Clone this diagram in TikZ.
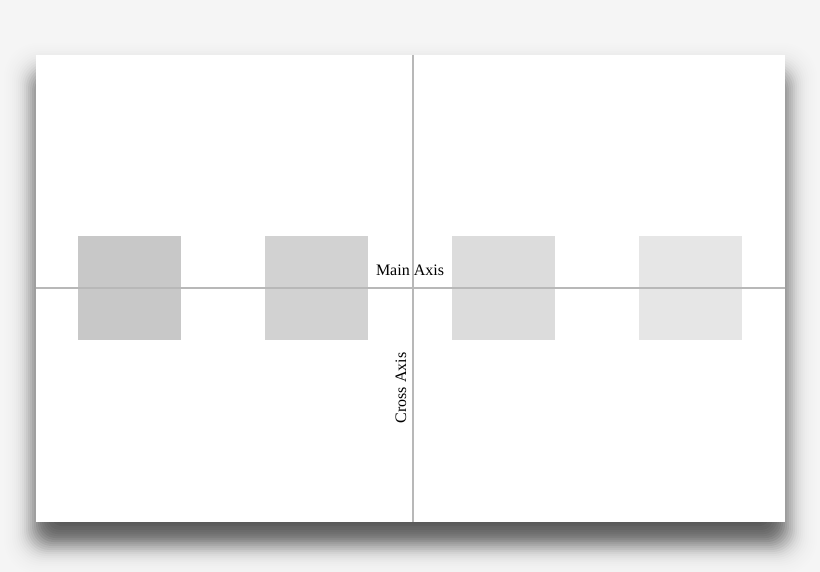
\documentclass[tikz,border=0pt]{standalone}
\usepackage{fontspec}
\setmainfont{Liberation Serif}
\definecolor{bgc}{HTML}{F5F5F5}
\definecolor{axisc}{HTML}{B8B8B8}
\definecolor{sqa}{HTML}{C8C8C8}
\definecolor{sqb}{HTML}{D2D2D2}
\definecolor{sqc}{HTML}{DCDCDC}
\definecolor{sqd}{HTML}{E6E6E6}
\tikzset{
  sqbox/.style={minimum width=103pt, minimum height=104pt, inner sep=0pt, anchor=north west},
  axisline/.style={draw=axisc, line width=1.4pt},
  lbl/.style={font=\fontsize{16}{18}\selectfont, inner sep=0pt}
}
\begin{document}
\begin{tikzpicture}[x=1pt,y=-1pt]
\useasboundingbox (0,0) rectangle (820,572);
\fill[bgc] (0,0) rectangle (820,572);
% soft shadow: Gaussian-like profile built from stacked translucent rectangles
\def\Dmax{0.62}
\def\sig{12}
\foreach \k in {-36,-34,...,36}{
  \pgfmathsetmacro\Da{\Dmax/(1+exp(1.702*(\k-1)/\sig))}
  \pgfmathsetmacro\Db{\Dmax/(1+exp(1.702*(\k+1)/\sig))}
  \pgfmathsetmacro\al{1-(1-\Da)/(1-\Db)}
  \pgfmathsetmacro\rc{max(\k+37,1)*0.5}
  \fill[black, fill opacity=\al, rounded corners=\rc pt]
    (34-\k,73-\k) rectangle (787+\k,544+\k);
}
\fill[white] (36,55) rectangle (785,522);
% squares
\node[sqbox, fill=sqa] (s1) at (78,236) {};
\node[sqbox, fill=sqb] (s2) at (265,236) {};
\node[sqbox, fill=sqc] (s3) at (452,236) {};
\node[sqbox, fill=sqd] (s4) at (639,236) {};
% axes
\coordinate (ml) at (36,288);
\coordinate (mr) at (785,288);
\coordinate (ct) at (413,55);
\coordinate (cb) at (413,522);
\draw[axisline] (ml) -- (mr);
\draw[axisline] (ct) -- (cb);
\node[lbl, anchor=base] (main) at (410,276) {Main Axis};
\node[lbl, rotate=90, anchor=base] (cross) at (406,388) {Cross Axis};
\end{tikzpicture}
\end{document}
